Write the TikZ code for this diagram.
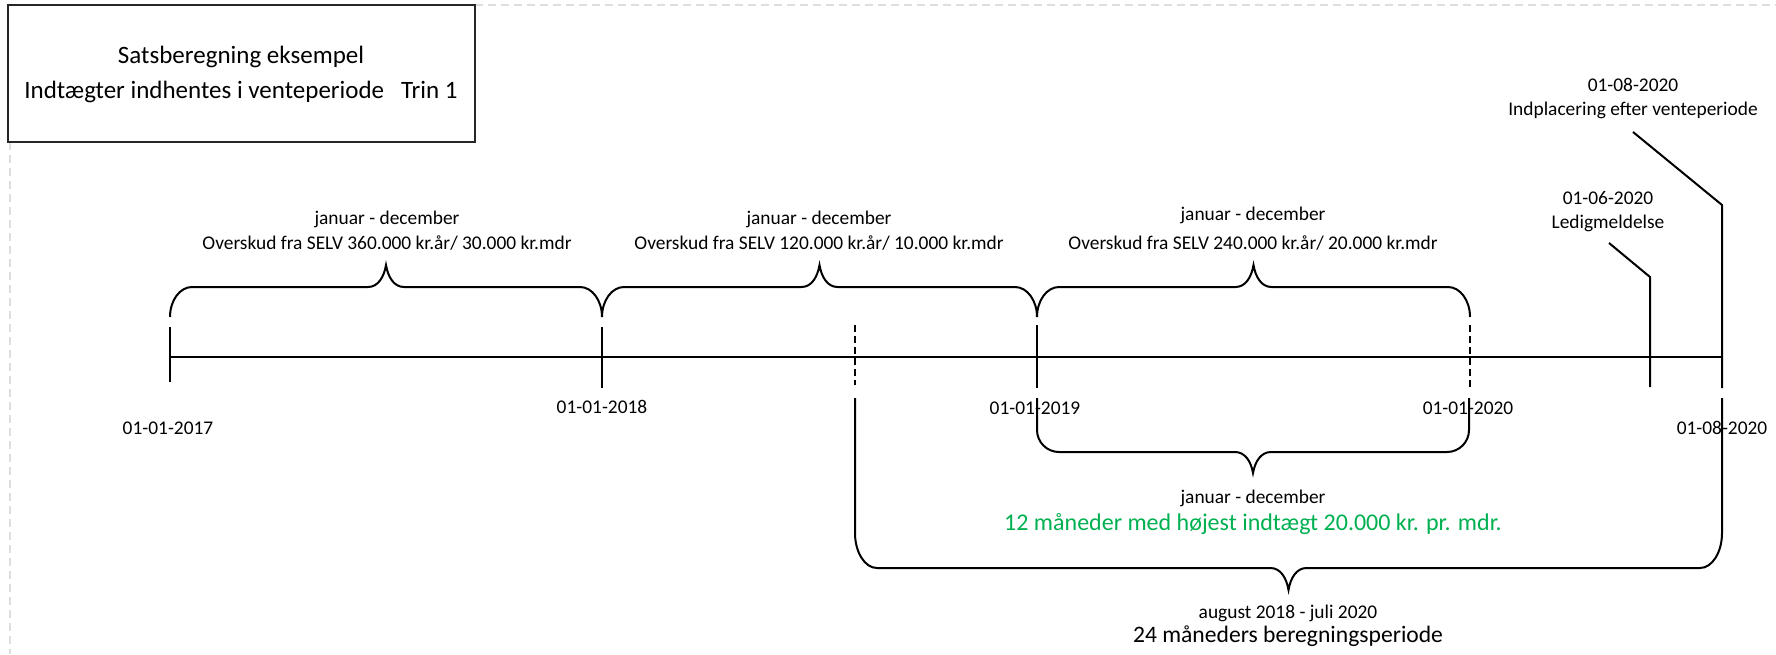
\documentclass[tikz,border=0pt]{standalone}
\usepackage{fontspec}
\setmainfont{Carlito}
\definecolor{grn}{RGB}{0,176,80}
\definecolor{lgray}{RGB}{222,222,222}
\newcommand{\brc}[7]{%
  \pgfmathsetmacro\brcC{(#1+#2)/2}%
  \pgfmathsetmacro\brcK{#6+0.552*(#4-#6)}%
  \pgfmathsetmacro\brcT{#4+0.45*(#5-#4)}%
  \draw[ln] (#1,#3) -- (#1,#6) .. controls (#1,\brcK) and ({#1+22*0.448},#4) .. ({#1+22},#4)
    -- ({\brcC-18},#4) .. controls ({\brcC-8},#4) and ({\brcC-2},\brcT) .. (\brcC,#5)
    .. controls ({\brcC+2},\brcT) and ({\brcC+8},#4) .. ({\brcC+18},#4)
    -- ({#2-22},#4) .. controls ({#2-22*0.448},#4) and (#2,\brcK) .. (#2,#6) -- (#2,#3);
  \coordinate (#7) at (\brcC,#5);}
\begin{document}
\begin{tikzpicture}[x=1pt,y=-1pt,
  ln/.style={line width=2pt,black},
  dsh/.style={line width=2pt,black,dash pattern=on 7pt off 4pt},
  sm/.style={font=\fontsize{19.4}{23}\selectfont,inner sep=0,anchor=base},
  bg/.style={font=\fontsize{25}{30}\selectfont,inner sep=0,anchor=base},
  gn/.style={font=\fontsize{24}{28}\selectfont,inner sep=0,anchor=base,text=grn}]
\useasboundingbox (0,0) rectangle (1776,654);
% light dashed frame
\draw[lgray,line width=1.5pt,dash pattern=on 8pt off 5pt] (475,5) -- (1776,5);
\draw[lgray,line width=1.5pt,dash pattern=on 8pt off 5pt] (10,142) -- (10,654);
% title box
\draw[line width=2.2pt,black!85] (8,5) rectangle (475,142);
\node[bg] (t1) at (241,63) {Satsberegning eksempel};
\node[bg] (t2) at (241,98) {Indtægter indhentes i venteperiode~~~Trin 1};
% axis
\coordinate (a0) at (170,357);
\coordinate (a1) at (1722,357);
\draw[ln] (a0) -- (a1);
% ticks
\draw[ln] (170,327) -- (170,382);
\draw[ln] (602,327) -- (602,388);
\draw[ln] (1037,325) -- (1037,388);
\draw[dsh] (855,325) -- (855,385);
\draw[dsh] (1470,325) -- (1470,390);
\coordinate (l1) at (1609,243);
\coordinate (l2) at (1650,277);
\draw[ln] (l1) -- (l2) -- (1650,387);
\coordinate (p1) at (1633,132);
\coordinate (p2) at (1722,205);
\draw[ln] (p1) -- (p2) -- (1722,388);
% top braces
\brc{170}{602}{317}{287}{265}{317}{tb1}
\brc{602}{1037}{317}{287}{265}{317}{tb2}
\brc{1037}{1470}{317}{287}{265}{317}{tb3}
% lower braces
\brc{1037}{1469}{398}{452}{473}{430}{ib}
\brc{855}{1722}{398}{568}{590}{533}{bb}
% brace texts
\node[sm] (b1a) at (387,224) {januar - december};
\node[sm] (b1b) at (387,249) {Overskud fra SELV 360.000 kr.år/ 30.000 kr.mdr};
\node[sm] (b2a) at (819,224) {januar - december};
\node[sm] (b2b) at (819,249) {Overskud fra SELV 120.000 kr.år/ 10.000 kr.mdr};
\node[sm] (b3a) at (1253,220) {januar - december};
\node[sm] (b3b) at (1253,249) {Overskud fra SELV 240.000 kr.år/ 20.000 kr.mdr};
% dates
\node[sm] (d17) at (168,434) {01-01-2017};
\node[sm] (d18) at (602,413) {01-01-2018};
\node[sm] (d19) at (1035,414) {01-01-2019};
\node[sm] (d20) at (1468,414) {01-01-2020};
\node[sm] (d8) at (1722,434) {01-08-2020};
\node[sm] (e1) at (1633,91) {01-08-2020};
\node[sm] (e2) at (1633,115) {Indplacering efter venteperiode};
\node[sm] (f1) at (1608,204) {01-06-2020};
\node[sm] (f2) at (1608,228) {Ledigmeldelse};
% lower texts
\node[sm] (i1) at (1253,503) {januar - december};
\node[gn] (i2) at (1253,530) {12 måneder med højest indtægt 20.000 kr. pr. mdr.};
\node[sm] (g1) at (1288,618) {august 2018 - juli 2020};
\node[bg,font=\fontsize{23.6}{28}\selectfont] (g2) at (1288,642) {24 måneders beregningsperiode};
\end{tikzpicture}
\end{document}
